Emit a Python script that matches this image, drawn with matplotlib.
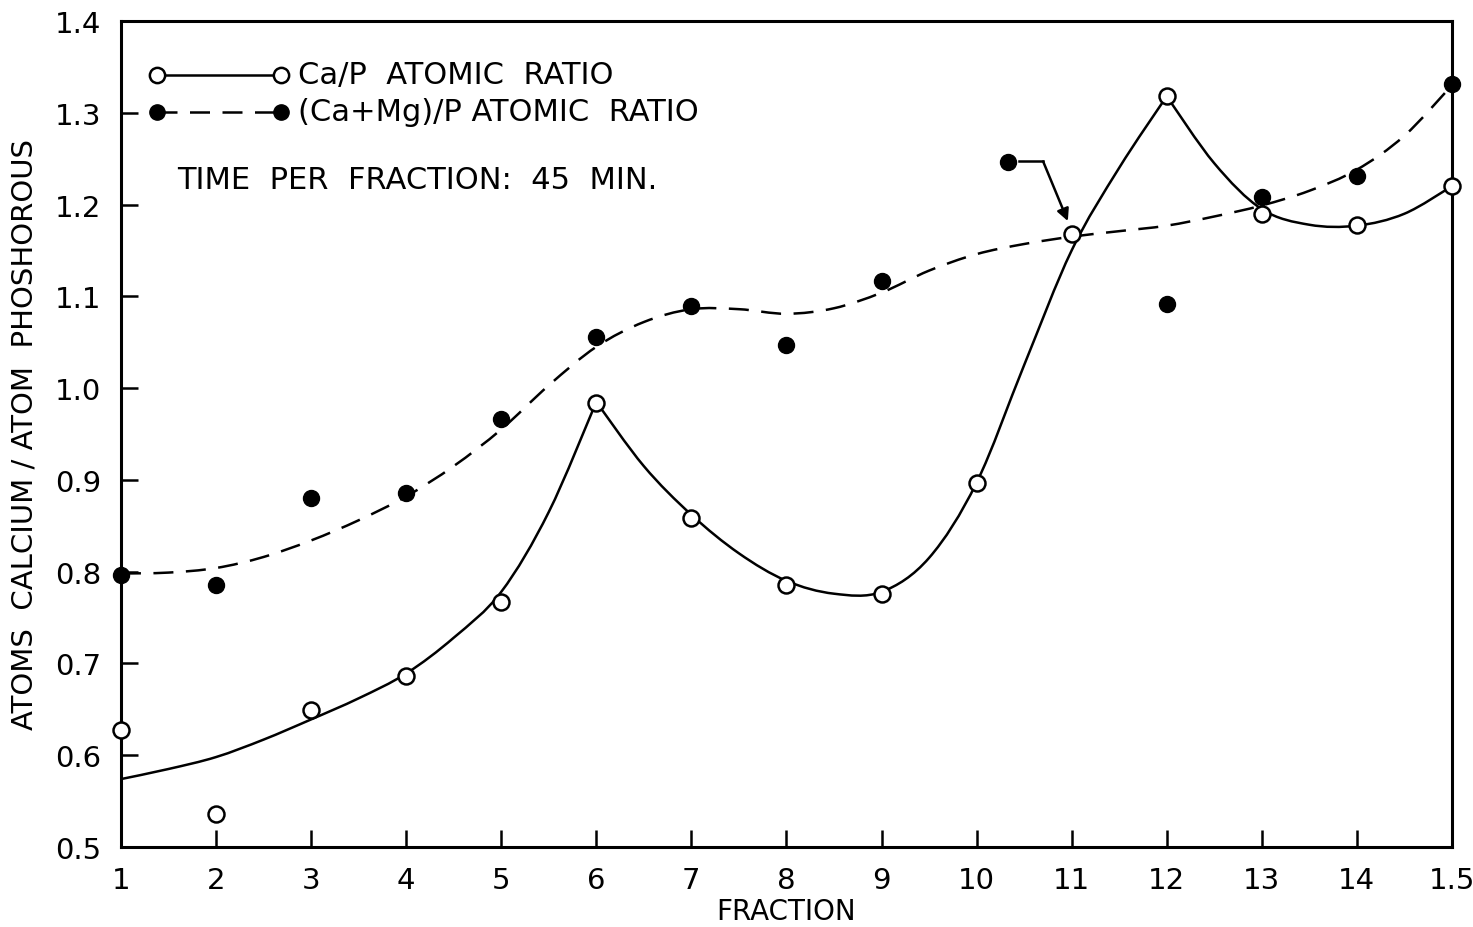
import numpy as np
import matplotlib
matplotlib.use("Agg")
import matplotlib.pyplot as plt
from matplotlib.path import Path
from matplotlib.patches import PathPatch

# measured points
fraction = [1, 2, 3, 4, 5, 6, 7, 8, 9, 10, 11, 12, 13, 14, 15]
ca_p = [0.627, 0.536, 0.649, 0.686, 0.767, 0.984, 0.858, 0.785, 0.776,
        0.897, 1.168, 1.318, 1.190, 1.178, 1.220]

camg_x = [1, 2, 3, 4, 5, 6, 7, 8, 9, 10.33, 12, 13, 14, 15]
camg_p = [0.796, 0.785, 0.880, 0.886, 0.966, 1.056, 1.090, 1.047, 1.117,
          1.246, 1.092, 1.208, 1.231, 1.331]

# hand drawn fit curves (knots), split at the cusps
ca_curve = [
    ([1, 1.5, 2, 2.5, 3, 3.5, 4, 4.5, 5, 5.5, 6],
     [0.574, 0.585, 0.598, 0.617, 0.639, 0.662, 0.689, 0.728, 0.778, 0.865, 0.985]),
    ([6, 6.5, 7, 7.5, 8, 8.5, 9, 9.5, 10, 10.5, 11, 11.5, 12],
     [0.985, 0.915, 0.862, 0.82, 0.79, 0.776, 0.778, 0.815, 0.897, 1.025, 1.15, 1.24, 1.318]),
    ([12, 12.5, 13, 13.5, 14, 14.5, 15], [1.318, 1.245, 1.195, 1.178, 1.177, 1.19, 1.22]),
]
camg_curve = [
    ([1, 1.5, 2, 2.5, 3, 3.5, 4, 4.5, 5, 5.5, 6, 6.5, 7, 7.5, 8, 8.5, 9, 9.5, 10,
      10.5, 11, 11.5, 12, 12.5, 13, 13.5, 14, 14.5, 15],
     [0.798, 0.799, 0.804, 0.816, 0.834, 0.856, 0.882, 0.915, 0.955, 1.003, 1.045, 1.072,
      1.086, 1.086, 1.081, 1.087, 1.104, 1.128, 1.146, 1.157, 1.165, 1.171, 1.177, 1.187,
      1.199, 1.215, 1.238, 1.275, 1.33]),
]

xticks = fraction
xticklabels = ["1", "2", "3", "4", "5", "6", "7", "8", "9", "10", "11", "12", "13", "14", "1.5"]
yticks = [0.5, 0.6, 0.7, 0.8, 0.9, 1.0, 1.1, 1.2, 1.3, 1.4]
yticklabels = ["0.5", "0.6", "0.7", "0.8", "0.9", "1.0", "1.1", "1.2", "1.3", "1.4"]


def smooth_path(xs, ys):
    # catmull-rom knots -> cubic bezier segments
    pts = np.column_stack([xs, ys]).astype(float)
    n = len(pts)
    verts = [pts[0]]
    codes = [Path.MOVETO]
    for i in range(n - 1):
        p0 = pts[i - 1] if i > 0 else pts[i]
        p1 = pts[i]
        p2 = pts[i + 1]
        p3 = pts[i + 2] if i + 2 < n else pts[i + 1]
        c1 = p1 + (p2 - p0) / 6.0
        c2 = p2 - (p3 - p1) / 6.0
        verts += [c1, c2, p2]
        codes += [Path.CURVE4] * 3
    return Path(verts, codes)


plt.rcParams['font.family'] = ['DejaVu Sans']
fig = plt.figure(figsize=(14.73, 9.28), dpi=100)
ax = fig.add_axes([0.0821, 0.0862, 0.9036, 0.8901])

for xs, ys in ca_curve:
    ax.add_patch(PathPatch(smooth_path(xs, ys), fill=False, lw=1.8, color="black",
                           capstyle="round"))
for xs, ys in camg_curve:
    ax.add_patch(PathPatch(smooth_path(xs, ys), fill=False, lw=1.8, color="black",
                           linestyle=(0, (8, 5))))

ax.plot(camg_x, camg_p, "o", ms=11.5, color="black", clip_on=False, zorder=5)
ax.plot(fraction, ca_p, "o", ms=11.5, mfc="white", mec="black", mew=1.8,
        clip_on=False, zorder=6)

# arrow from the stray point to fraction 11
ax.plot([10.45, 10.7], [1.247, 1.247], color="black", lw=1.8)
ax.annotate("", xy=(10.96, 1.182), xytext=(10.7, 1.247),
            arrowprops=dict(arrowstyle="-|>", color="black", lw=1.8,
                            mutation_scale=18, shrinkA=0, shrinkB=0))

# legend drawn by hand
ax.plot([0.027, 0.12], [0.935, 0.935], transform=ax.transAxes, color="black", lw=1.8)
ax.plot([0.027, 0.12], [0.935, 0.935], "o", transform=ax.transAxes, ms=11,
        mfc="white", mec="black", mew=1.8)
ax.plot([0.027, 0.12], [0.89, 0.89], transform=ax.transAxes, color="black", lw=1.8,
        linestyle=(0, (8, 5)))
ax.plot([0.027, 0.12], [0.89, 0.89], "o", transform=ax.transAxes, ms=11, color="black")
ax.text(0.133, 0.935, "Ca/P  ATOMIC  RATIO", transform=ax.transAxes,
        fontsize=22, va="center")
ax.text(0.133, 0.89, "(Ca+Mg)/P ATOMIC  RATIO", transform=ax.transAxes,
        fontsize=22, va="center")
ax.text(0.042, 0.808, "TIME  PER  FRACTION:  45  MIN.", transform=ax.transAxes,
        fontsize=22, va="center")

ax.set_xlim(1, 15)
ax.set_ylim(0.5, 1.4)
ax.set_xticks(xticks)
ax.set_xticklabels(xticklabels)
ax.set_yticks(yticks)
ax.set_yticklabels(yticklabels)
ax.tick_params(direction="in", length=12, width=1.8, labelsize=21, pad=14,
               top=False, right=False)
for s in ax.spines.values():
    s.set_linewidth(2.2)

ax.set_xlabel("FRACTION", fontsize=20, labelpad=2)
ax.set_ylabel("ATOMS  CALCIUM / ATOM  PHOSHOROUS", fontsize=21, labelpad=12)

fig.savefig("out.png", dpi=100)
